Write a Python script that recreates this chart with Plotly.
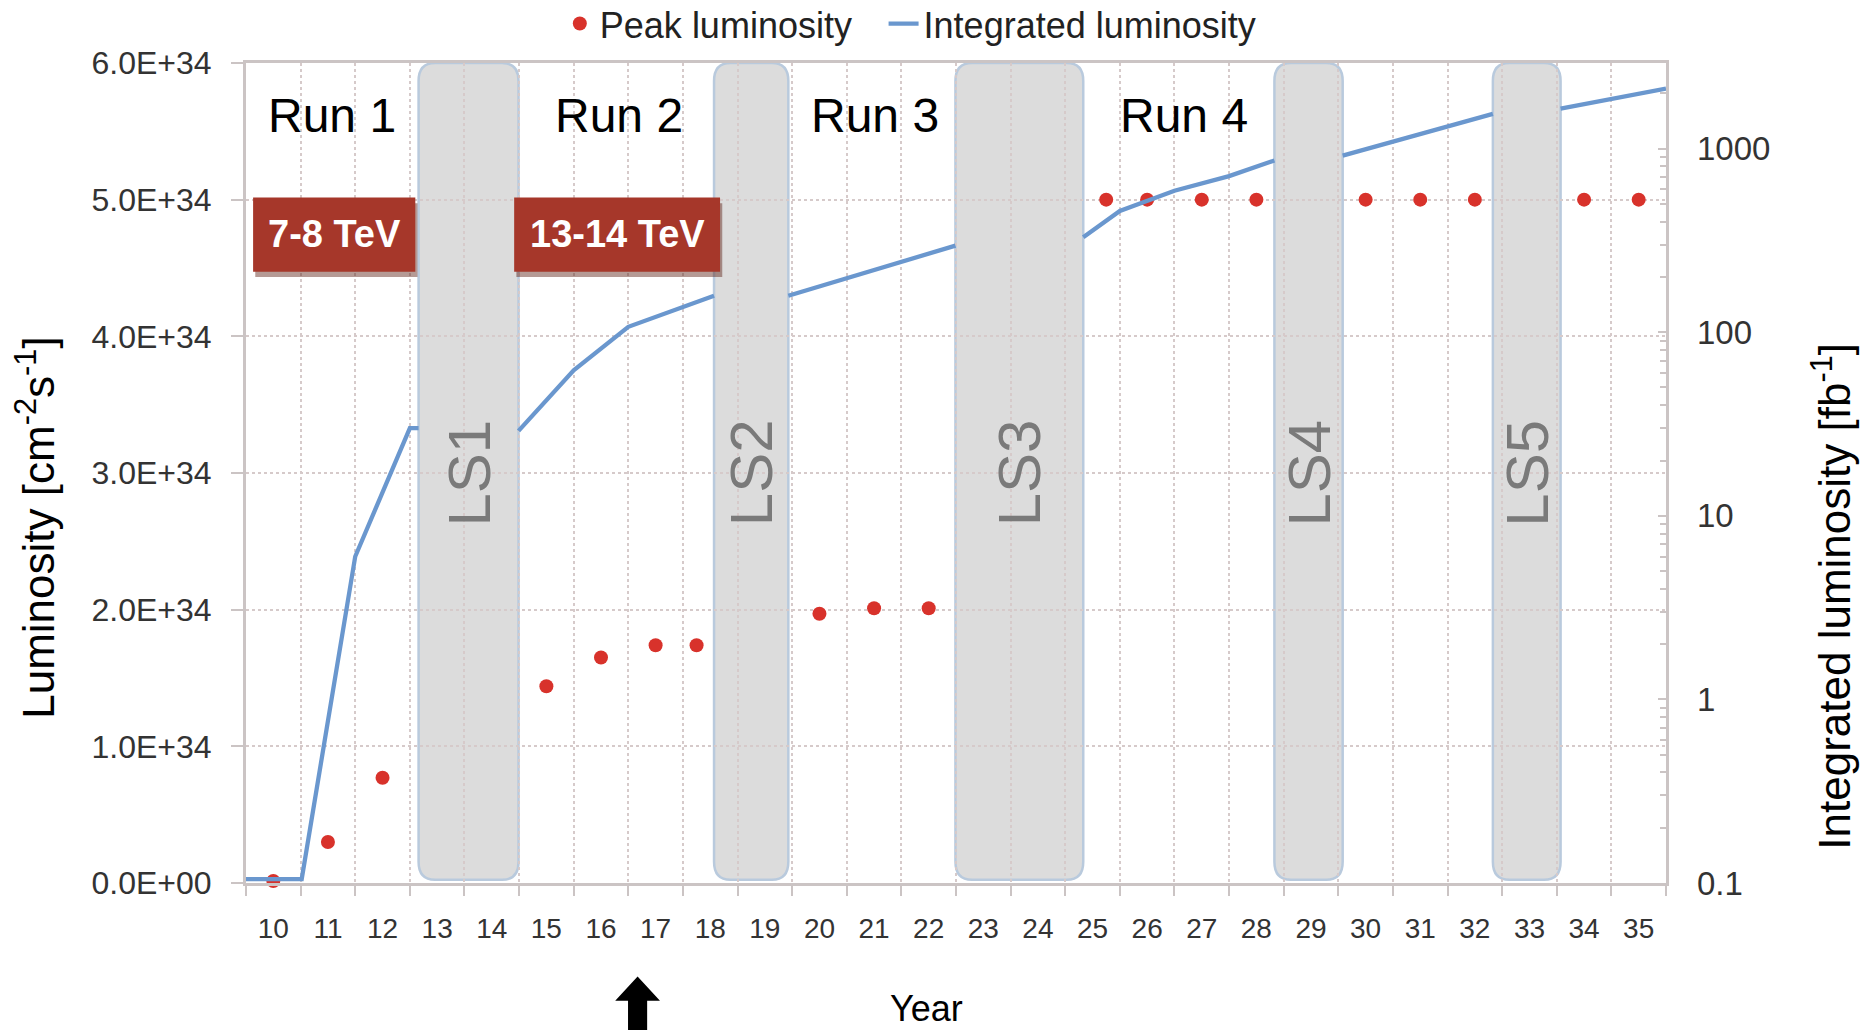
import plotly.graph_objects as go

# ---- data -------------------------------------------------------------
# Peak luminosity per year [cm^-2 s^-1]
peak_years = [10, 11, 12, 15, 16, 17, 17.75, 20, 21, 22,
              25.25, 26, 27, 28, 30, 31, 32, 34, 35]
peak_lumi = [0.015e34, 0.30e34, 0.77e34, 1.44e34, 1.65e34, 1.74e34, 1.74e34,
             1.97e34, 2.01e34, 2.01e34,
             5.0e34, 5.0e34, 5.0e34, 5.0e34, 5.0e34, 5.0e34, 5.0e34, 5.0e34, 5.0e34]

# Integrated luminosity [fb^-1]; None breaks the curve at each shutdown
int_years = [9.5, 10.52, 11.5, 12.5, 12.66, None,
             14.49, 15.5, 16.5, 17.5, 18.07, None,
             19.43, 20.44, 21.5, 22.49, None,
             24.83, 25.5, 26.5, 27.5, 28.33, None,
             29.58, 32.33, None,
             33.57, 35.5]
int_lumi = [0.105, 0.105, 6.0, 30, 30, None,
            29, 62, 107, 138, 158, None,
            158, 195, 242, 296, None,
            329, 457, 589, 708, 861, None,
            916, 1545, None,
            1648, 2120]

# Long shutdowns
ls_names = ["LS1", "LS2", "LS3", "LS4", "LS5"]
ls_start = [12.66, 18.07, 22.49, 28.33, 32.33]
ls_end = [14.49, 19.43, 24.83, 29.58, 33.57]

# Run periods and collision energies
run_names = ["Run 1", "Run 2", "Run 3", "Run 4"]
run_centers = [11.08, 16.33, 21.02, 26.67]
energy_labels = ["7-8 TeV", "13-14 TeV"]
energy_start = [9.63, 14.41]
energy_end = [12.6, 18.18]

# Axis ticks
year_ticks = list(range(10, 36))
year_labels = [str(y) for y in year_ticks]
lumi_ticks = [0, 1e34, 2e34, 3e34, 4e34, 5e34, 6e34]
lumi_labels = ["0.0E+00", "1.0E+34", "2.0E+34", "3.0E+34", "4.0E+34", "5.0E+34", "6.0E+34"]
int_ticks = [0.1, 1, 10, 100, 1000]
int_labels = ["0.1", "1", "10", "100", "1000"]

# Current year marker
now_year = 16.67

# ---- styling ----------------------------------------------------------
FONT = "Liberation Sans, Arial, sans-serif"
AXIS_COL = "#cbc4c4"
GRID_COL = "#d6caca"
DOT_COL = "#d8322b"
LINE_COL = "#6a97ce"
BOX_RED = "#a6372a"

fig = go.Figure()

fig.add_trace(go.Scatter(
    x=peak_years, y=peak_lumi, mode="markers", name="Peak luminosity",
    marker=dict(color=DOT_COL, size=14), cliponaxis=False, yaxis="y",
    legend="legend",
))
fig.add_trace(go.Scatter(
    x=int_years, y=int_lumi, mode="lines", name="Integrated luminosity",
    line=dict(color=LINE_COL, width=4.3), connectgaps=False, yaxis="y2",
    legend="legend2",
))


def rounded_box(x0, x1, y0, y1, rx, ry):
    return (f"M {x0 + rx},{y0} L {x1 - rx},{y0} Q {x1},{y0} {x1},{y0 + ry} "
            f"L {x1},{y1 - ry} Q {x1},{y1} {x1 - rx},{y1} "
            f"L {x0 + rx},{y1} Q {x0},{y1} {x0},{y1 - ry} "
            f"L {x0},{y0 + ry} Q {x0},{y0} {x0 + rx},{y0} Z")


shapes = []
annotations = []

# Long shutdown bands
for name, a, b in zip(ls_names, ls_start, ls_end):
    shapes.append(dict(
        type="path", xref="x", yref="paper", layer="between",
        path=rounded_box(a, b, 0.004, 1.0, 0.3, 0.022),
        fillcolor="#dcdcdc", line=dict(color="#b9cadd", width=2.5),
    ))
    annotations.append(dict(
        x=(a + b) / 2, y=0.5, xref="x", yref="paper", text=name,
        textangle=-90, showarrow=False, xanchor="center", yanchor="middle",
        font=dict(family=FONT, size=60, color="#7a7a7a"),
    ))

# Energy boxes
for label, a, b in zip(energy_labels, energy_start, energy_end):
    shapes.append(dict(
        type="rect", xref="x", yref="paper", layer="above",
        x0=a + 0.04, x1=b + 0.04, y0=0.739, y1=0.829,
        fillcolor="rgba(90,30,20,0.45)", line=dict(width=0),
    ))
    shapes.append(dict(
        type="rect", xref="x", yref="paper", layer="above",
        x0=a, x1=b, y0=0.7455, y1=0.836,
        fillcolor=BOX_RED, line=dict(width=0),
    ))
    annotations.append(dict(
        x=(a + b) / 2, y=0.791, xref="x", yref="paper", text=f"<b>{label}</b>",
        showarrow=False, xanchor="center", yanchor="middle",
        font=dict(family=FONT, size=38, color="white"),
    ))

# Run labels
for name, c in zip(run_names, run_centers):
    annotations.append(dict(
        x=c, y=0.936, xref="x", yref="paper", text=name, showarrow=False,
        xanchor="center", yanchor="middle",
        font=dict(family=FONT, size=48, color="black"),
    ))

# Upward arrow under the time axis
hw, sw = 0.41, 0.175
shapes.append(dict(
    type="path", xref="x", yref="paper", layer="above",
    path=(f"M {now_year},-0.114 L {now_year + hw},-0.1435 L {now_year + sw},-0.1435 "
          f"L {now_year + sw},-0.25 L {now_year - sw},-0.25 L {now_year - sw},-0.1435 "
          f"L {now_year - hw},-0.1435 Z"),
    fillcolor="black", line=dict(width=0),
))

# Axis titles
annotations.append(dict(
    x=0.479, y=-0.153, xref="paper", yref="paper", text="Year", showarrow=False,
    xanchor="center", yanchor="middle",
    font=dict(family=FONT, size=36, color="black"),
))
annotations.append(dict(
    x=-0.148, y=0.433, xref="paper", yref="paper",
    text="Luminosity [cm<sup>-2</sup>s<sup>-1</sup>]", textangle=-90, showarrow=False,
    xanchor="center", yanchor="middle",
    font=dict(family=FONT, size=44, color="black"),
))
annotations.append(dict(
    x=1.116, y=0.35, xref="paper", yref="paper",
    text="Integrated luminosity [fb<sup>-1</sup>]", textangle=-90, showarrow=False,
    xanchor="center", yanchor="middle",
    font=dict(family=FONT, size=44, color="black"),
))

legend_style = dict(
    orientation="h", xanchor="left", y=1.048, yanchor="middle",
    font=dict(family=FONT, size=36, color="#222222"),
    bgcolor="rgba(0,0,0,0)", itemwidth=30,
)

fig.update_layout(
    width=1861, height=1030,
    margin=dict(l=246, r=195, t=63, b=147, autoexpand=False),
    paper_bgcolor="white", plot_bgcolor="white",
    font=dict(family=FONT, color="#333333"),
    shapes=shapes, annotations=annotations,
    showlegend=True,
    legend=dict(x=0.221, **legend_style),
    legend2=dict(x=0.449, **legend_style),
    xaxis=dict(
        range=[9.5, 35.5], tickmode="array", tickvals=year_ticks, ticktext=year_labels,
        ticks="", showgrid=False, zeroline=False,
        showline=True, mirror=True, linecolor=AXIS_COL, linewidth=3,
        tickfont=dict(family=FONT, size=28, color="#333333"),
        ticklabelstandoff=18,
        minor=dict(tick0=9.5, dtick=1, ticks="outside", ticklen=10, tickwidth=2,
                   tickcolor=AXIS_COL, showgrid=True, gridcolor=GRID_COL,
                   griddash="dot", gridwidth=1.5),
    ),
    yaxis=dict(
        range=[0, 6e34], tickmode="array", tickvals=lumi_ticks, ticktext=lumi_labels,
        ticks="outside", ticklen=12, tickwidth=2, tickcolor=AXIS_COL,
        showgrid=True, gridcolor=GRID_COL, griddash="dot", gridwidth=1.5,
        zeroline=False, showline=True, mirror=True, linecolor=AXIS_COL, linewidth=3,
        tickfont=dict(family=FONT, size=32, color="#333333"),
        ticklabelstandoff=13,
    ),
    yaxis2=dict(
        type="log", range=[-1, 3.466], overlaying="y", side="right",
        tickmode="array", tickvals=int_ticks, ticktext=int_labels,
        ticks="inside", ticklen=8, tickwidth=2, tickcolor=AXIS_COL,
        showgrid=False, zeroline=False, showline=False,
        tickfont=dict(family=FONT, size=33, color="#333333"),
        ticklabelstandoff=30,
        minor=dict(ticks="inside", ticklen=6, tickwidth=1.5, tickcolor=AXIS_COL,
                   dtick="D1", showgrid=False),
    ),
)

fig.write_html("out.html")
